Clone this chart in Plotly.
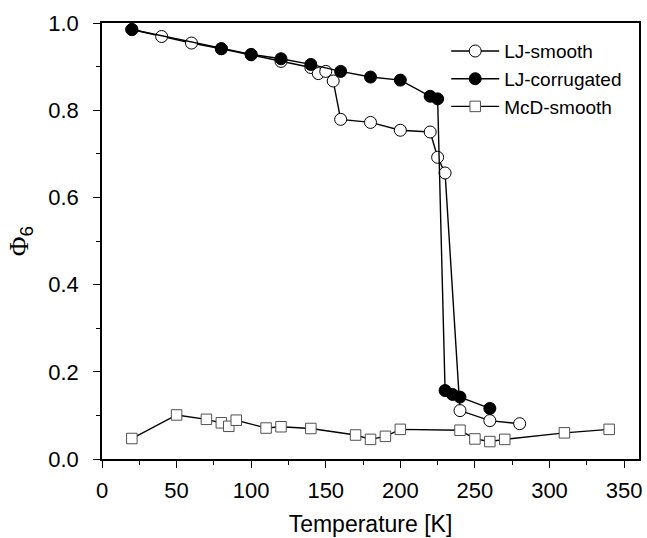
import plotly.graph_objects as go

# LJ-smooth (open circles)
lj_smooth_T = [20, 40, 60, 80, 100, 120, 140, 145, 150, 155, 160, 180, 200, 220, 225, 230, 240, 260, 280]
lj_smooth_phi = [0.985, 0.969, 0.954, 0.941, 0.927, 0.912, 0.898, 0.884, 0.889, 0.867, 0.779, 0.772,
                 0.754, 0.750, 0.692, 0.656, 0.111, 0.088, 0.081]

# LJ-corrugated (filled circles)
lj_corr_T = [20, 80, 100, 120, 140, 160, 180, 200, 220, 225, 230, 235, 240, 260]
lj_corr_phi = [0.985, 0.941, 0.928, 0.918, 0.905, 0.889, 0.876, 0.869, 0.832, 0.826, 0.157, 0.148, 0.142, 0.116]

# McD-smooth (open squares)
mcd_T = [20, 50, 70, 80, 85, 90, 110, 120, 140, 170, 180, 190, 200, 240, 250, 260, 270, 310, 340]
mcd_phi = [0.047, 0.101, 0.091, 0.083, 0.075, 0.089, 0.071, 0.074, 0.070, 0.055, 0.045, 0.052,
           0.068, 0.066, 0.046, 0.040, 0.045, 0.060, 0.068]

x_ticks = [0, 50, 100, 150, 200, 250, 300, 350]
y_ticks = [0.0, 0.2, 0.4, 0.6, 0.8, 1.0]

FONT = "Liberation Sans, Arial, sans-serif"

fig = go.Figure()
fig.add_trace(go.Scatter(
    x=lj_smooth_T, y=lj_smooth_phi, name="LJ-smooth", mode="lines+markers",
    line=dict(color="black", width=1.4),
    marker=dict(symbol="circle", size=12, color="white", line=dict(color="black", width=1))))
fig.add_trace(go.Scatter(
    x=lj_corr_T, y=lj_corr_phi, name="LJ-corrugated", mode="lines+markers",
    line=dict(color="black", width=1.4),
    marker=dict(symbol="circle", size=12, color="black", line=dict(color="black", width=1))))
fig.add_trace(go.Scatter(
    x=mcd_T, y=mcd_phi, name="McD-smooth", mode="lines+markers",
    line=dict(color="black", width=1.4),
    marker=dict(symbol="square", size=10.5, color="white", line=dict(color="#505050", width=1))))

fig.update_layout(
    width=647, height=538,
    margin=dict(l=102, r=5, t=23, b=75),
    paper_bgcolor="white", plot_bgcolor="white",
    font=dict(family=FONT, color="black", size=18),
    showlegend=True,
    legend=dict(x=0.641, y=0.979, xanchor="left", yanchor="top",
                bgcolor="rgba(0,0,0,0)", font=dict(size=19, family=FONT),
                itemwidth=48, tracegroupgap=0),
    xaxis=dict(range=[0, 360], tickvals=x_ticks, ticktext=[str(v) for v in x_ticks],
               showgrid=False, zeroline=False, showline=True, linecolor="black", linewidth=1.5,
               mirror=True, ticks="outside", ticklen=7, tickwidth=1.3, tickcolor="black",
               minor=dict(dtick=25, ticks="outside", ticklen=4, tickwidth=1.3, tickcolor="black"),
               tickfont=dict(size=22), ticklabelstandoff=4,
               title=dict(text="Temperature [K]", font=dict(size=23), standoff=14)),
    yaxis=dict(range=[0, 1.0], tickvals=y_ticks, ticktext=["%.1f" % v for v in y_ticks],
               showgrid=False, zeroline=False, showline=True, linecolor="black", linewidth=1.5,
               mirror=True, ticks="outside", ticklen=7, tickwidth=1.3, tickcolor="black",
               minor=dict(dtick=0.1, ticks="outside", ticklen=4, tickwidth=1.3, tickcolor="black"),
               tickfont=dict(size=22), ticklabelstandoff=10,
               title=dict(text="<span style='font-family:Liberation Serif'>Φ</span><sub>6</sub>",
                          font=dict(size=27), standoff=12)),
)

fig.write_html("out.html", config={"displayModeBar": False},
               post_script="document.body.style.margin='0px';")
